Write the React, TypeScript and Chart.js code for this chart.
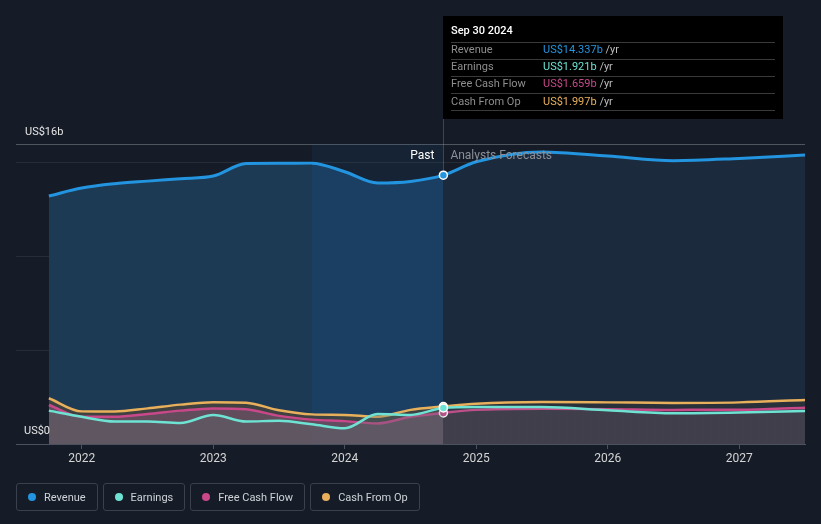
import React, { useEffect, useRef } from "react";
import { Chart, registerables } from "chart.js";

Chart.register(...registerables);

// ---------- data ----------
const pastDates = [2021.75, 2022.0, 2022.25, 2022.5, 2022.75, 2023.0, 2023.25, 2023.5, 2023.75, 2024.0, 2024.25, 2024.5, 2024.75];
const forecastDates = [2025.0, 2025.5, 2026.0, 2026.5, 2027.0, 2027.5];

const revenuePast = [13.23, 13.65, 13.88, 14.02, 14.15, 14.29, 14.96, 14.97, 14.98, 14.52, 13.92, 14.0, 14.337];
const revenueForecast = [15.05, 15.58, 15.36, 15.11, 15.23, 15.41];

const earningsPast = [1.78, 1.45, 1.2, 1.2, 1.12, 1.55, 1.2, 1.24, 1.05, 0.84, 1.6, 1.55, 1.921];
const earningsForecast = [1.97, 1.97, 1.8, 1.64, 1.68, 1.76];

const fcfPast = [2.08, 1.45, 1.45, 1.6, 1.78, 1.9, 1.85, 1.5, 1.3, 1.22, 1.1, 1.45, 1.659];
const fcfForecast = [1.82, 1.88, 1.86, 1.82, 1.83, 1.94];

const cfoPast = [2.44, 1.74, 1.73, 1.9, 2.1, 2.23, 2.2, 1.8, 1.58, 1.55, 1.45, 1.82, 1.997];
const cfoForecast = [2.15, 2.24, 2.22, 2.19, 2.22, 2.35];

const xTickYears = [2022, 2023, 2024, 2025, 2026, 2027];
const yTicks = [0, 5, 10, 15, 16];
const xMin = 2021.5;
const xMax = 2027.5;
const yMax = 16;
const bandStart = 2023.75;
const pastEnd = 2024.75;

const seriesNames = ["Revenue", "Earnings", "Free Cash Flow", "Cash From Op"];
const seriesColors = ["#2394df", "#6ee3d3", "#c8488a", "#e9b05c"];
const tooltipTitle = "Sep 30 2024";
const yTopLabel = "US$16b";
const yBottomLabel = "US$0";
const pastLabel = "Past";
const forecastLabel = "Analysts Forecasts";

const allDates = [...pastDates, ...forecastDates];
const toPoints = (past: number[], fc: number[]) =>
  allDates.map((x, i) => ({ x, y: i < past.length ? past[i] : fc[i - past.length] }));

const FONT = "Roboto, 'Noto Sans', sans-serif";

function hGrad(chart: any, stops: [number, string][], fallback: string) {
  const ca = chart.chartArea;
  if (!ca) return fallback;
  const xs = chart.scales.x;
  const g = chart.ctx.createLinearGradient(ca.left, 0, ca.right, 0);
  const w = ca.right - ca.left;
  let prev: string | null = null;
  stops.forEach(([val, col]) => {
    const p = Math.min(1, Math.max(0, (xs.getPixelForValue(val) - ca.left) / w));
    if (prev) g.addColorStop(p, prev);
    g.addColorStop(p, col);
    prev = col;
  });
  g.addColorStop(1, prev as string);
  return g;
}

const overlayPlugin = {
  id: "overlay",
  beforeDatasetsDraw(chart: any) {
    const { ctx, chartArea: ca, scales } = chart;
    const xb = scales.x.getPixelForValue(bandStart);
    const xe = scales.x.getPixelForValue(pastEnd);
    ctx.save();
    ctx.fillStyle = "rgba(30,100,170,0.10)";
    ctx.fillRect(xb, ca.top, xe - xb, ca.bottom - ca.top);
    ctx.strokeStyle = "rgba(120,150,180,0.35)";
    ctx.lineWidth = 1;
    ctx.beginPath();
    ctx.moveTo(Math.round(xe) + 0.5, 16);
    ctx.lineTo(Math.round(xe) + 0.5, ca.bottom);
    ctx.stroke();
    ctx.restore();
  },
  afterDatasetsDraw(chart: any) {
    const { ctx, chartArea: ca, scales } = chart;
    const xe = scales.x.getPixelForValue(pastEnd);
    ctx.save();
    ctx.font = `12px ${FONT}`;
    ctx.textBaseline = "middle";
    ctx.fillStyle = "#ffffff";
    ctx.textAlign = "right";
    ctx.fillText(pastLabel, xe - 9, ca.top + 12);
    ctx.fillStyle = "#8b9098";
    ctx.textAlign = "left";
    ctx.fillText(forecastLabel, xe + 7, ca.top + 12);
    // y labels
    ctx.fillStyle = "#e6e6e6";
    ctx.font = `11px ${FONT}`;
    ctx.fillText(yTopLabel, ca.left + 9, scales.y.getPixelForValue(yMax) - 12);
    ctx.fillText(yBottomLabel, ca.left + 8, scales.y.getPixelForValue(0) - 13);
    ctx.restore();
  },
  afterDraw(chart: any) {
    const { ctx, scales } = chart;
    const left = Math.round(scales.x.getPixelForValue(pastEnd));
    const top = 16;
    const w = 340;
    const h = 103;
    ctx.save();
    ctx.fillStyle = "#000000";
    ctx.fillRect(left, top, w, h);
    ctx.textBaseline = "middle";
    ctx.textAlign = "left";
    ctx.fillStyle = "#ffffff";
    ctx.font = `500 11px ${FONT}`;
    ctx.fillText(tooltipTitle, left + 8, top + 15);
    const vals = [revenuePast, earningsPast, fcfPast, cfoPast].map((a) => a[a.length - 1]);
    ctx.strokeStyle = "#3a3a3a";
    ctx.lineWidth = 1;
    for (let i = 0; i < 5; i++) {
      const ly = top + 25.5 + i * 17.2;
      ctx.beginPath();
      ctx.moveTo(left + 8, Math.round(ly) + 0.5);
      ctx.lineTo(left + 332, Math.round(ly) + 0.5);
      ctx.stroke();
    }
    ctx.font = `11px ${FONT}`;
    seriesNames.forEach((name, i) => {
      const ry = top + 34 + i * 17.3;
      ctx.fillStyle = "#8e8e8e";
      ctx.fillText(name, left + 8, ry);
      const v = `US$${vals[i].toFixed(3)}b`;
      ctx.fillStyle = seriesColors[i];
      ctx.fillText(v, left + 100, ry);
      const vw = ctx.measureText(v).width;
      ctx.fillStyle = "#bdbdbd";
      ctx.fillText(" /yr", left + 100 + vw, ry);
    });
    ctx.restore();
  },
};

export default function App() {
  const ref = useRef<HTMLCanvasElement>(null);

  useEffect(() => {
    if (!ref.current) return;
    const lastPast = pastDates.length - 1;
    const pr = (ctx: any) => (ctx.dataIndex === lastPast ? 4 : 0);
    const common = {
      cubicInterpolationMode: "monotone" as const,
      pointRadius: pr,
      pointHoverRadius: pr,
      pointBorderColor: "#ffffff",
      pointBorderWidth: 1.5,
      fill: "origin",
    };
    const chart = new Chart(ref.current, {
      type: "line",
      data: {
        datasets: [
          {
            ...common,
            label: seriesNames[0],
            data: toPoints(revenuePast, revenueForecast),
            borderColor: seriesColors[0],
            pointBackgroundColor: seriesColors[0],
            borderWidth: 3,
            order: 4,
            backgroundColor: (c: any) =>
              hGrad(c.chart, [[xMin, "rgb(29,58,85)"], [bandStart, "rgb(27,63,98)"], [pastEnd, "rgb(27,42,60)"]], "rgb(29,58,85)"),
          },
          {
            ...common,
            label: seriesNames[3],
            data: toPoints(cfoPast, cfoForecast),
            borderColor: seriesColors[3],
            pointBackgroundColor: seriesColors[3],
            borderWidth: 2.5,
            order: 3,
            backgroundColor: (c: any) =>
              hGrad(c.chart, [[xMin, "rgba(84,70,50,0.6)"], [pastEnd, "rgba(55,55,55,0.5)"]], "rgba(84,70,50,0.6)"),
          },
          {
            ...common,
            label: seriesNames[2],
            data: toPoints(fcfPast, fcfForecast),
            borderColor: seriesColors[2],
            pointBackgroundColor: seriesColors[2],
            borderWidth: 2.5,
            order: 2,
            backgroundColor: (c: any) =>
              hGrad(c.chart, [[xMin, "rgba(188,105,165,0.28)"], [pastEnd, "rgba(150,80,120,0.15)"]], "rgba(188,105,165,0.28)"),
          },
          {
            ...common,
            label: seriesNames[1],
            data: toPoints(earningsPast, earningsForecast),
            borderColor: seriesColors[1],
            pointBackgroundColor: seriesColors[1],
            borderWidth: 2.5,
            order: 1,
            backgroundColor: (c: any) =>
              hGrad(c.chart, [[xMin, "rgba(90,110,110,0.3)"], [pastEnd, "rgba(110,130,135,0.12)"]], "rgba(90,110,110,0.3)"),
          },
        ],
      },
      options: {
        animation: false,
        responsive: false,
        devicePixelRatio: 1,
        layout: { padding: { top: 144, left: 16, right: 16, bottom: 0 } },
        plugins: { legend: { display: false }, tooltip: { enabled: false } },
        events: [],
        scales: {
          x: {
            type: "linear",
            min: xMin,
            max: xMax,
            afterBuildTicks: (s: any) => {
              s.ticks = xTickYears.map((v) => ({ value: v }));
            },
            afterFit: (s: any) => {
              s.height = 80;
            },
            ticks: {
              color: "#d4d4d4",
              font: { family: FONT, size: 12 },
              padding: 3,
              maxRotation: 0,
              callback: (v: any) => String(v),
            },
            grid: { drawOnChartArea: false, drawTicks: true, tickLength: 5, color: "#4a5260" },
            border: { display: true, color: "#4a5260" },
          },
          y: {
            min: 0,
            max: yMax,
            afterBuildTicks: (s: any) => {
              s.ticks = yTicks.map((v) => ({ value: v }));
            },
            afterFit: (s: any) => {
              s.width = 0;
            },
            ticks: { display: false },
            grid: {
              drawTicks: false,
              color: (c: any) =>
                c.tick && c.tick.value === yMax ? "rgba(255,255,255,0.25)" : "rgba(255,255,255,0.08)",
            },
            border: { display: false },
          },
        },
      },
      plugins: [overlayPlugin],
    } as any);
    return () => chart.destroy();
  }, []);

  const legendItem = (name: string, color: string) => (
    <div
      key={name}
      style={{
        display: "flex",
        alignItems: "center",
        height: 26,
        padding: "0 11px",
        border: "1px solid #3a414c",
        borderRadius: 3,
        color: "#cfd3d8",
        fontSize: 11,
        fontFamily: FONT,
        boxSizing: "content-box",
        whiteSpace: "nowrap",
      }}
    >
      <span
        style={{ width: 8, height: 8, borderRadius: "50%", background: color, marginRight: 8, display: "inline-block" }}
      />
      {name}
    </div>
  );

  return (
    <div style={{ position: "fixed", left: 0, top: 0, width: 821, height: 524, background: "#151c27", overflow: "hidden" }}>
      <canvas ref={ref} width={821} height={524} style={{ display: "block", position: "absolute", left: 0, top: 0 }} />
      <div style={{ position: "absolute", left: 16, top: 483, display: "flex", gap: 5 }}>
        {seriesNames.map((n, i) => legendItem(n, seriesColors[i]))}
      </div>
    </div>
  );
}
